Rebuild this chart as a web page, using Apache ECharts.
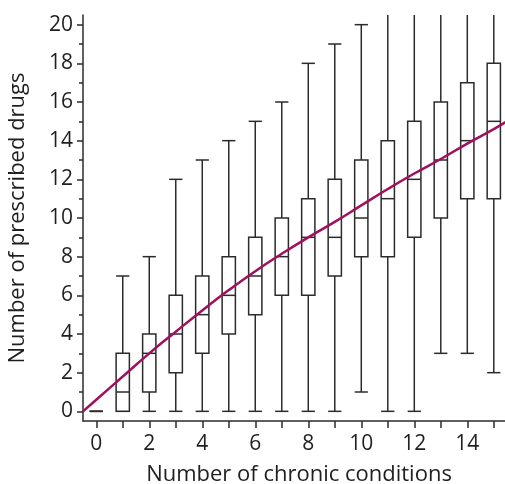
<!DOCTYPE html>
<html>
<head>
<meta charset="utf-8">
<script src="https://cdn.jsdelivr.net/npm/echarts@6/dist/echarts.min.js"></script>
<style>
  html, body { margin: 0; padding: 0; background: #fff; }
  #chart { width: 505px; height: 484px; }
</style>
</head>
<body>
<div id="chart"></div>
<script>
// Number of chronic conditions (x positions of the boxes)
const conditions = [0, 1, 2, 3, 4, 5, 6, 7, 8, 9, 10, 11, 12, 13, 14, 15];
// Five-number summaries of prescribed drugs per group
const whiskerLow = [0, 0, 0, 0, 0, 0, 0, 0, 0, 0, 1, 0, 0, 3, 3, 2];
const quartile1  = [0, 0, 1, 2, 3, 4, 5, 6, 6, 7, 8, 8, 9, 10, 11, 11];
const medians    = [0, 1, 3, 4, 5, 6, 7, 8, 9, 9, 10, 11, 12, 13, 14, 15];
const quartile3  = [0, 3, 4, 6, 7, 8, 9, 10, 11, 12, 13, 14, 15, 16, 17, 18];
const whiskerHigh = [0, 7, 8, 12, 13, 14, 15, 16, 18, 19, 20, 23, 24, 25, 26, 27];

// Fitted trend of drugs against conditions
const fitX = [-0.5, 0, 1, 2, 3, 4, 5, 6, 7, 8, 9, 10, 11, 12, 13, 14, 15, 15.5];
const fitY = [0, 0.6, 1.8, 3.0, 4.12, 5.22, 6.27, 7.25, 8.15, 9.0, 9.8, 10.65, 11.5, 12.3, 13.05, 13.85, 14.6, 15.0];

// Axis ticks and labels
const xTicks = [0, 1, 2, 3, 4, 5, 6, 7, 8, 9, 10, 11, 12, 13, 14, 15];
const xLabels = [0, 2, 4, 6, 8, 10, 12, 14];
const yMajor = [0, 2, 4, 6, 8, 10, 12, 14, 16, 18, 20];
const yMinor = [1, 3, 5, 7, 9, 11, 13, 15, 17, 19];

const boxData = conditions.map((c, i) =>
  [c, whiskerLow[i], quartile1[i], medians[i], quartile3[i], whiskerHigh[i]]);
const fitData = fitX.map((x, i) => [x, fitY[i]]);

const ink = '#2b2b2b';
const font = 'Open Sans';

const chart = echarts.init(document.getElementById('chart'), null, { renderer: 'canvas' });

function renderBox(params, api) {
  const x = api.value(0);
  const lo = api.coord([x, api.value(1)]);
  const q1 = api.coord([x, api.value(2)]);
  const md = api.coord([x, api.value(3)]);
  const q3 = api.coord([x, api.value(4)]);
  const hi = api.coord([x, api.value(5)]);
  const half = api.size([0.5, 0])[0] / 2;
  const cx = lo[0];
  const style = { stroke: ink, lineWidth: 1.5, fill: null };
  const line = (x1, y1, x2, y2) => ({ type: 'line', shape: { x1, y1, x2, y2 }, style });
  const parts = [
    line(cx, lo[1], cx, q1[1]),
    line(cx, q3[1], cx, hi[1]),
    line(cx - half, lo[1], cx + half, lo[1]),
    line(cx - half, hi[1], cx + half, hi[1])
  ];
  if (q1[1] - q3[1] > 0.5) {
    parts.push({
      type: 'rect',
      shape: { x: cx - half, y: q3[1], width: half * 2, height: q1[1] - q3[1] },
      style: { stroke: ink, lineWidth: 1.5, fill: '#fff' }
    });
  }
  parts.push(line(cx - half, md[1], cx + half, md[1]));
  return { type: 'group', children: parts };
}

const axisText = { color: '#1f1f1f', fontFamily: font, fontSize: 21 };
const titleText = { color: '#1f1f1f', fontFamily: font, fontSize: 22 };

chart.setOption({
  animation: false,
  grid: {
    left: 83, right: -10, top: 15, bottom: 63,
    containLabel: false, outerBoundsMode: 'none'
  },
  xAxis: {
    type: 'value',
    min: -0.5,
    max: 15.8,
    name: 'Number of chronic conditions',
    nameLocation: 'middle',
    nameGap: 43,
    nameTextStyle: titleText,
    axisLine: { show: true, onZero: false, lineStyle: { color: ink, width: 1.5 } },
    axisTick: { show: true, length: 7, customValues: xTicks, lineStyle: { color: ink, width: 1.5 } },
    axisLabel: Object.assign({ customValues: xLabels, margin: 13 }, axisText),
    splitLine: { show: false }
  },
  yAxis: [
    {
      type: 'value',
      min: -0.5,
      max: 20.5,
      name: 'Number of prescribed drugs',
      nameLocation: 'middle',
      nameGap: 54,
      nameTextStyle: titleText,
      axisLine: { show: true, onZero: false, lineStyle: { color: ink, width: 1.5 } },
      axisTick: { show: true, length: 6, customValues: yMajor, lineStyle: { color: ink, width: 1.5 } },
      axisLabel: Object.assign({ customValues: yMajor, margin: 10 }, axisText),
      splitLine: { show: false }
    },
    {
      type: 'value',
      min: -0.5,
      max: 20.5,
      position: 'left',
      offset: 0,
      axisLine: { show: false, onZero: false },
      axisTick: { show: true, length: 4, customValues: yMinor, lineStyle: { color: ink, width: 1.5 } },
      axisLabel: { show: false },
      splitLine: { show: false }
    }
  ],
  series: [
    {
      type: 'custom',
      name: 'drugs',
      clip: true,
      renderItem: renderBox,
      encode: { x: 0, y: [1, 2, 3, 4, 5] },
      data: boxData,
      z: 2
    },
    {
      type: 'line',
      name: 'fit',
      data: fitData,
      smooth: true,
      showSymbol: false,
      symbol: 'none',
      clip: true,
      lineStyle: { color: '#a0105c', width: 2.5 },
      z: 3
    }
  ]
});
</script>
</body>
</html>
